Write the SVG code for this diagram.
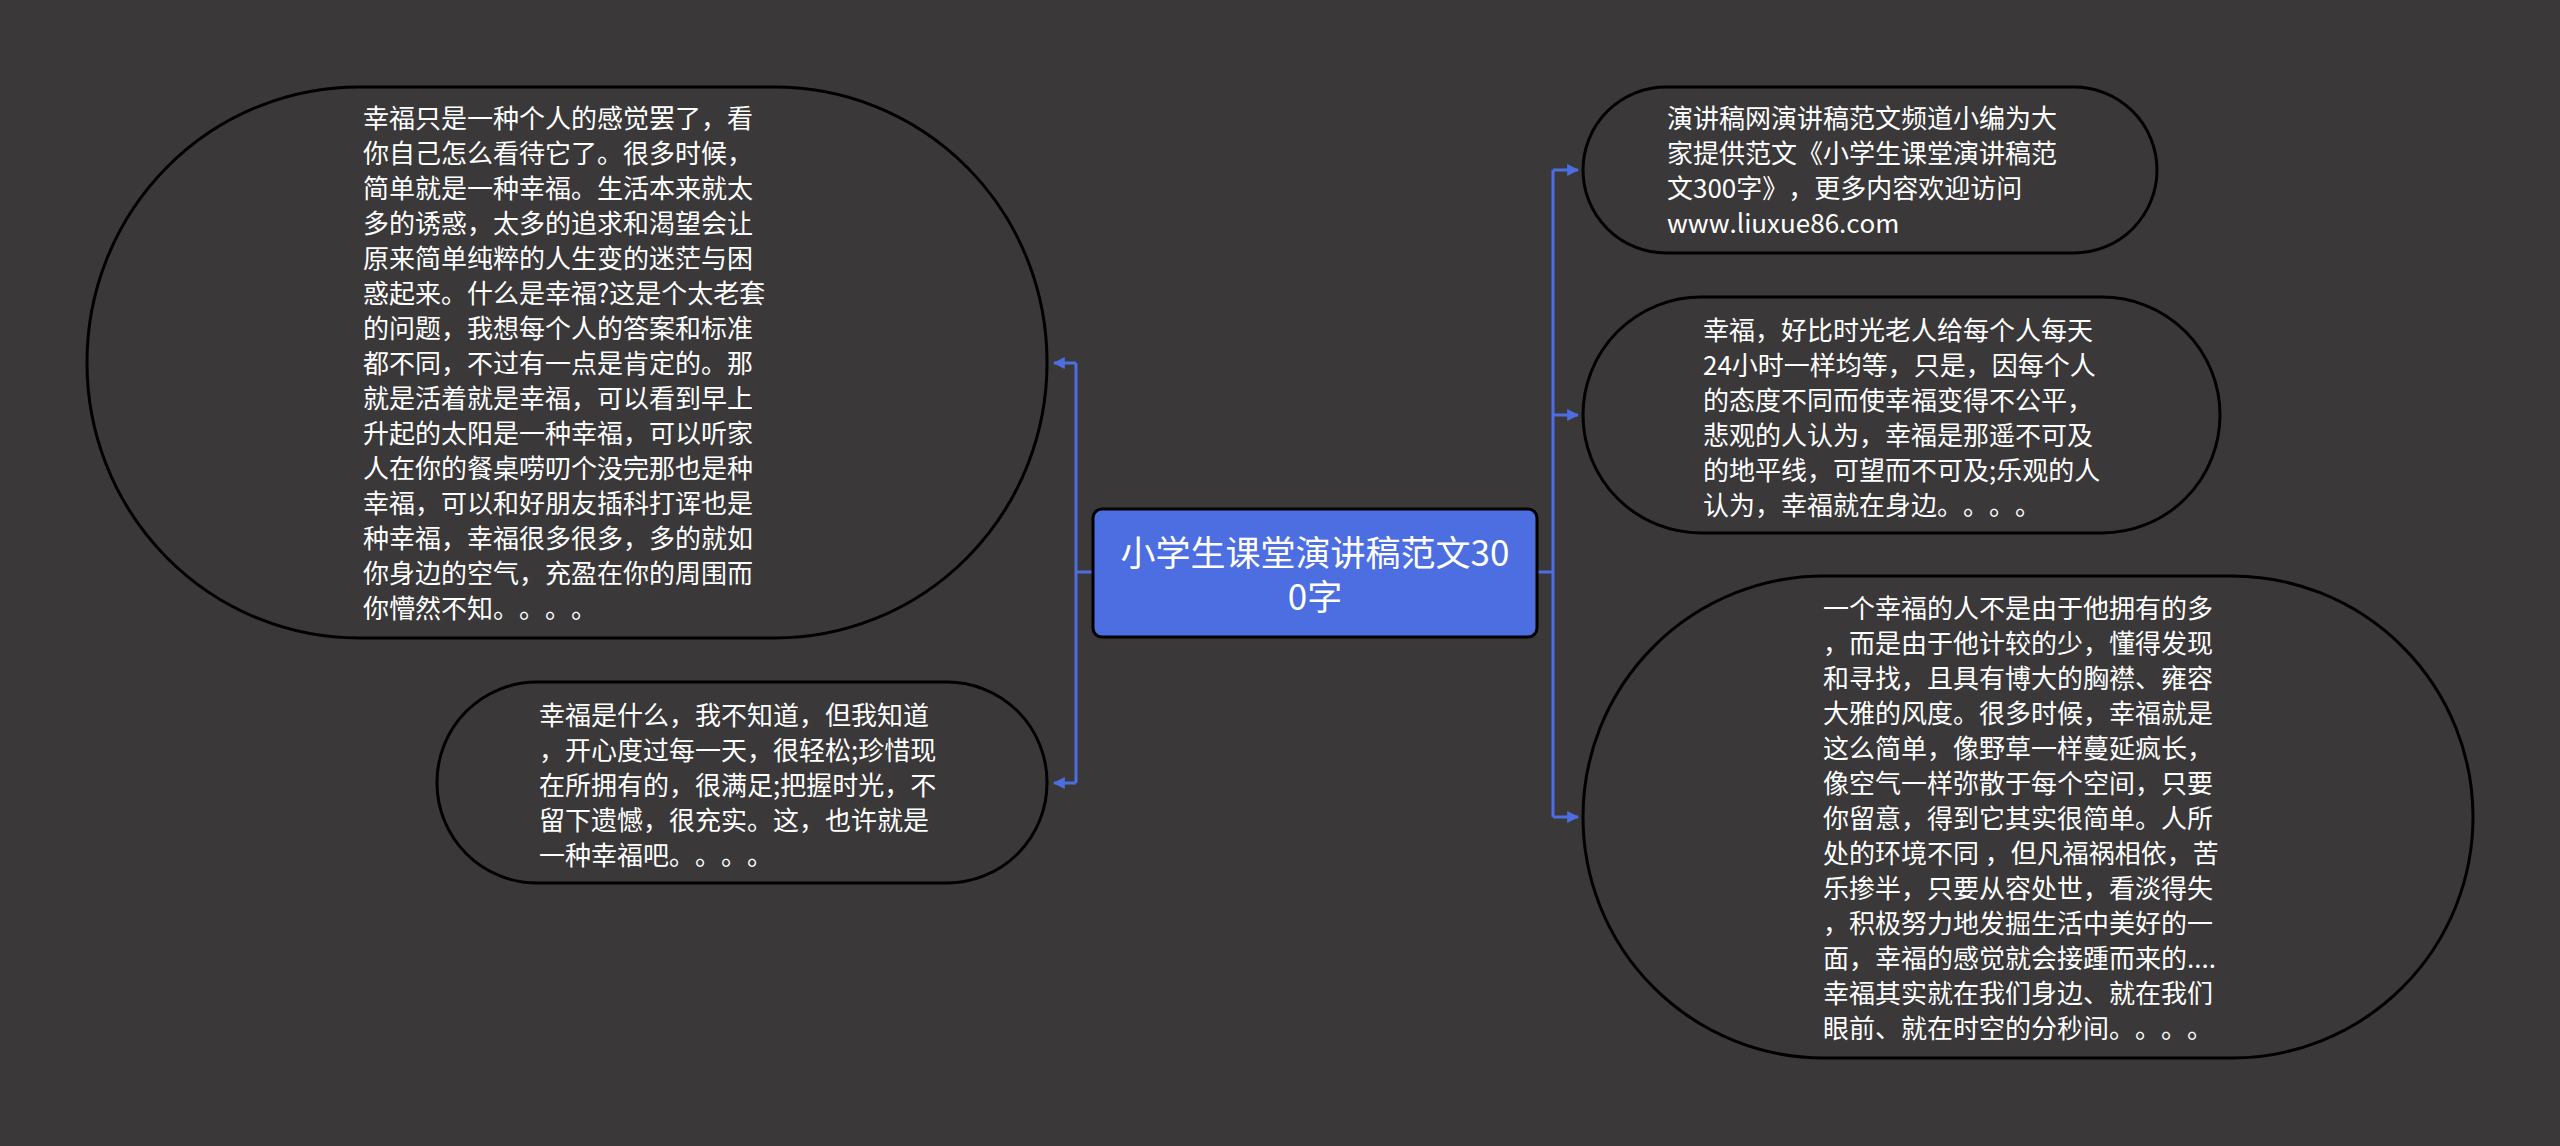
<svg xmlns="http://www.w3.org/2000/svg" width="2560" height="1146" viewBox="0 0 2560 1146">
<style>
.bg{fill:#3a3839}
.oval{fill:#3a3839;stroke:#000;stroke-width:3}
text{text-spacing-trim:space-all;font-kerning:none}
.t{fill:#fff;font-family:"Noto Sans CJK SC","Noto Sans",sans-serif;font-size:26px}
.ct{fill:#fff;font-family:"Noto Sans CJK SC","Noto Sans",sans-serif;font-size:35px;text-anchor:middle}
.ln{fill:none;stroke:#4c6ee0;stroke-width:3}
</style>
<defs>
<marker id="ah" viewBox="0 0 10 10" refX="9" refY="5" markerWidth="4" markerHeight="4" markerUnits="strokeWidth" orient="auto">
<path d="M0,0 L10,5 L0,10 z" fill="#4c6ee0"/>
</marker>
</defs>
<rect class="bg" x="0" y="0" width="2560" height="1146"/>
<g id="connectors">
<path class="ln" d="M1093,572 H1076"/>
<path class="ln" d="M1076,363 V783"/>
<path class="ln" d="M1076,363 H1054" marker-end="url(#ah)"/>
<path class="ln" d="M1076,783 H1054" marker-end="url(#ah)"/>
<path class="ln" d="M1537,572 H1553"/>
<path class="ln" d="M1553,170 V817"/>
<path class="ln" d="M1553,170 H1578" marker-end="url(#ah)"/>
<path class="ln" d="M1553,415 H1578" marker-end="url(#ah)"/>
<path class="ln" d="M1553,817 H1578" marker-end="url(#ah)"/>
</g>
<g id="center">
<rect x="1093" y="509" width="444" height="128" rx="9" ry="9" fill="#4c6ee0" stroke="#000" stroke-width="3"/>
<text class="ct"><tspan x="1315" y="566">小学生课堂演讲稿范文30</tspan><tspan x="1315" y="610">0字</tspan></text>
</g>
<g id="node-l1">
<rect class="oval" x="87" y="87" width="960" height="551" rx="272" ry="275"/>
<text class="t">
<tspan x="363" y="128">幸福只是一种个人的感觉罢了，看</tspan>
<tspan x="363" y="163">你自己怎么看待它了。很多时候，</tspan>
<tspan x="363" y="198">简单就是一种幸福。生活本来就太</tspan>
<tspan x="363" y="233">多的诱惑，太多的追求和渴望会让</tspan>
<tspan x="363" y="268">原来简单纯粹的人生变的迷茫与困</tspan>
<tspan x="363" y="303">惑起来。什么是幸福?这是个太老套</tspan>
<tspan x="363" y="338">的问题，我想每个人的答案和标准</tspan>
<tspan x="363" y="373">都不同，不过有一点是肯定的。那</tspan>
<tspan x="363" y="408">就是活着就是幸福，可以看到早上</tspan>
<tspan x="363" y="443">升起的太阳是一种幸福，可以听家</tspan>
<tspan x="363" y="478">人在你的餐桌唠叨个没完那也是种</tspan>
<tspan x="363" y="513">幸福，可以和好朋友插科打诨也是</tspan>
<tspan x="363" y="548">种幸福，幸福很多很多，多的就如</tspan>
<tspan x="363" y="583">你身边的空气，充盈在你的周围而</tspan>
<tspan x="363" y="618">你懵然不知。。。。</tspan>
</text>
</g>
<g id="node-l2">
<rect class="oval" x="437" y="682" width="610" height="201" rx="100" ry="100"/>
<text class="t">
<tspan x="539" y="725">幸福是什么，我不知道，但我知道</tspan>
<tspan x="539" y="760">，开心度过每一天，很轻松;珍惜现</tspan>
<tspan x="539" y="795">在所拥有的，很满足;把握时光，不</tspan>
<tspan x="539" y="830">留下遗憾，很充实。这，也许就是</tspan>
<tspan x="539" y="865">一种幸福吧。。。。</tspan>
</text>
</g>
<g id="node-r1">
<rect class="oval" x="1583" y="87" width="574" height="166" rx="83" ry="83"/>
<text class="t">
<tspan x="1667" y="128">演讲稿网演讲稿范文频道小编为大</tspan>
<tspan x="1667" y="163">家提供范文《小学生课堂演讲稿范</tspan>
<tspan x="1667" y="198">文300字》，更多内容欢迎访问</tspan>
<tspan x="1667" y="233">www.liuxue86.com</tspan>
</text>
</g>
<g id="node-r2">
<rect class="oval" x="1583" y="297" width="637" height="236" rx="118" ry="118"/>
<text class="t">
<tspan x="1703" y="340">幸福，好比时光老人给每个人每天</tspan>
<tspan x="1703" y="375">24小时一样均等，只是，因每个人</tspan>
<tspan x="1703" y="410">的态度不同而使幸福变得不公平，</tspan>
<tspan x="1703" y="445">悲观的人认为，幸福是那遥不可及</tspan>
<tspan x="1703" y="480">的地平线，可望而不可及;乐观的人</tspan>
<tspan x="1703" y="515">认为，幸福就在身边。。。。</tspan>
</text>
</g>
<g id="node-r3">
<rect class="oval" x="1583" y="576" width="890" height="482" rx="241" ry="241"/>
<text class="t">
<tspan x="1823" y="618">一个幸福的人不是由于他拥有的多</tspan>
<tspan x="1823" y="653">，而是由于他计较的少，懂得发现</tspan>
<tspan x="1823" y="688">和寻找，且具有博大的胸襟、雍容</tspan>
<tspan x="1823" y="723">大雅的风度。很多时候，幸福就是</tspan>
<tspan x="1823" y="758">这么简单，像野草一样蔓延疯长，</tspan>
<tspan x="1823" y="793">像空气一样弥散于每个空间，只要</tspan>
<tspan x="1823" y="828">你留意，得到它其实很简单。人所</tspan>
<tspan x="1823" y="863">处的环境不同 ，但凡福祸相依，苦</tspan>
<tspan x="1823" y="898">乐掺半，只要从容处世，看淡得失</tspan>
<tspan x="1823" y="933">，积极努力地发掘生活中美好的一</tspan>
<tspan x="1823" y="968">面，幸福的感觉就会接踵而来的....</tspan>
<tspan x="1823" y="1003">幸福其实就在我们身边、就在我们</tspan>
<tspan x="1823" y="1038">眼前、就在时空的分秒间。。。。</tspan>
</text>
</g>
</svg>
